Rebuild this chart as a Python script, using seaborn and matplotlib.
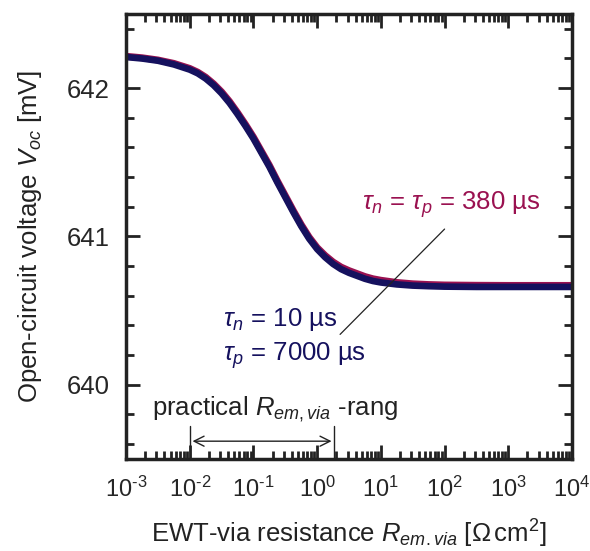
import numpy as np
import pandas as pd
import matplotlib
matplotlib.use("Agg")
import matplotlib.pyplot as plt
import seaborn as sns
from matplotlib.ticker import LogLocator, FixedLocator, MultipleLocator, NullFormatter

# ---- data ----
log_r = [-3.0, -2.75, -2.5, -2.25, -2.0, -1.875, -1.75, -1.625, -1.5, -1.375, -1.25, -1.125,
         -1.0, -0.875, -0.75, -0.625, -0.5, -0.375, -0.25, -0.125, 0.0, 0.125, 0.25, 0.375,
         0.5, 0.625, 0.75, 0.875, 1.0, 1.25, 1.5, 1.75, 2.0, 2.5, 3.0, 3.5, 4.0]
voc_blue = [642.21, 642.20, 642.185, 642.16, 642.125, 642.10, 642.065, 642.02, 641.965, 641.90,
            641.825, 641.745, 641.66, 641.565, 641.47, 641.365, 641.265, 641.165, 641.07,
            640.985, 640.915, 640.86, 640.815, 640.78, 640.755, 640.735, 640.715, 640.70,
            640.69, 640.677, 640.669, 640.665, 640.662, 640.66, 640.66, 640.66, 640.66]
voc_red = [642.215, 642.205, 642.19, 642.167, 642.133, 642.108, 642.074, 642.029, 641.975, 641.91,
           641.835, 641.755, 641.67, 641.575, 641.48, 641.375, 641.275, 641.175, 641.08,
           640.995, 640.925, 640.872, 640.828, 640.794, 640.77, 640.75, 640.73, 640.715,
           640.705, 640.69, 640.681, 640.676, 640.673, 640.671, 640.67, 640.67, 640.67]
xtick_exps = [-3, -2, -1, 0, 1, 2, 3, 4]
yticks = [640, 641, 642]

label_red = r'$\tau_n$ = $\tau_p$ = 380 µs'
label_blue1 = r'$\tau_n$ = 10 µs'
label_blue2 = r'$\tau_p$ = 7000 µs'

RED = '#9a1150'
BLUE = '#15115e'
INK = '#222222'

sns.set_style("ticks")
plt.rcParams['font.family'] = ['Liberation Sans', 'DejaVu Sans']
plt.rcParams['mathtext.fontset'] = 'custom'
plt.rcParams['mathtext.rm'] = 'Liberation Sans'
plt.rcParams['mathtext.it'] = 'Liberation Sans:italic'
plt.rcParams['mathtext.bf'] = 'Liberation Sans:bold'

FS = 18.5

df_r = pd.DataFrame({'R': [10 ** v for v in log_r], 'V': voc_red})
df_b = pd.DataFrame({'R': [10 ** v for v in log_r], 'V': voc_blue})

fig = plt.figure(figsize=(5.9, 5.51), dpi=100)
ax = fig.add_axes([0.2136, 0.167, 0.9695 - 0.2136, 0.9746 - 0.167])

sns.lineplot(data=df_r, x='R', y='V', ax=ax, color=RED, lw=5, dashes=False,
             solid_joinstyle='round', solid_capstyle='round')
sns.lineplot(data=df_b, x='R', y='V', ax=ax, color=BLUE, lw=4.8, dashes=False,
             solid_joinstyle='round', solid_capstyle='round')

ax.set_xscale('log')
ax.set_xlim(1e-3, 1e4)
ax.set_ylim(639.5, 642.5)

ax.xaxis.set_major_locator(FixedLocator([10.0 ** e for e in xtick_exps]))
ax.set_xticklabels([r'$\mathregular{10^{\text{%d}}}$' % e for e in xtick_exps], fontsize=17)
ax.xaxis.set_minor_locator(LogLocator(base=10, subs=np.arange(2, 10), numticks=100))
ax.xaxis.set_minor_formatter(NullFormatter())
ax.set_yticks(yticks)
ax.set_yticklabels([str(v) for v in yticks], fontsize=FS)
ax.yaxis.set_minor_locator(MultipleLocator(0.2))

ax.tick_params(which='both', direction='in', top=True, right=True, width=2, color=INK)
ax.tick_params(which='major', length=10)
ax.tick_params(which='minor', length=6)
ax.tick_params(axis='y', which='major', pad=12)
ax.tick_params(axis='x', which='major', pad=13)
for s in ax.spines.values():
    s.set_linewidth(2.5)
    s.set_color(INK)

ax.set_xlabel(r'EWT-via resistance $R_{em.via}$ [$\Omega\,$cm$^2$]', fontsize=FS, labelpad=11, color=INK)
ax.set_ylabel(r'Open-circuit voltage $V_{oc}$ [mV]', fontsize=FS, labelpad=16, color=INK)

# labels
ax.text(10 ** 0.7, 641.215, label_red, color=RED, fontsize=FS, va='center', ha='left')
ax.text(10 ** -1.48, 640.44, label_blue1, color=BLUE, fontsize=FS, va='center', ha='left')
ax.text(10 ** -1.48, 640.2, label_blue2, color=BLUE, fontsize=FS, va='center', ha='left')
ax.plot([10 ** 2.0, 10 ** 0.36], [641.05, 640.34], color=INK, lw=0.9)

# practical range annotation
x0, x1 = 1e-2, 10 ** 0.27
ax.plot([x0, x0], [639.5, 639.72], color=INK, lw=1)
ax.plot([x1, x1], [639.5, 639.72], color=INK, lw=1)
ax.annotate('', xy=(x0, 639.62), xytext=(x1, 639.62),
            arrowprops=dict(arrowstyle='<->', color=INK, lw=1, mutation_scale=18))
ax.text(10 ** -2.6, 639.835, r'practical $R_{em,via}$ -rang', fontsize=FS, color=INK,
        va='center', ha='left')

fig.savefig('out.png', dpi=100)
